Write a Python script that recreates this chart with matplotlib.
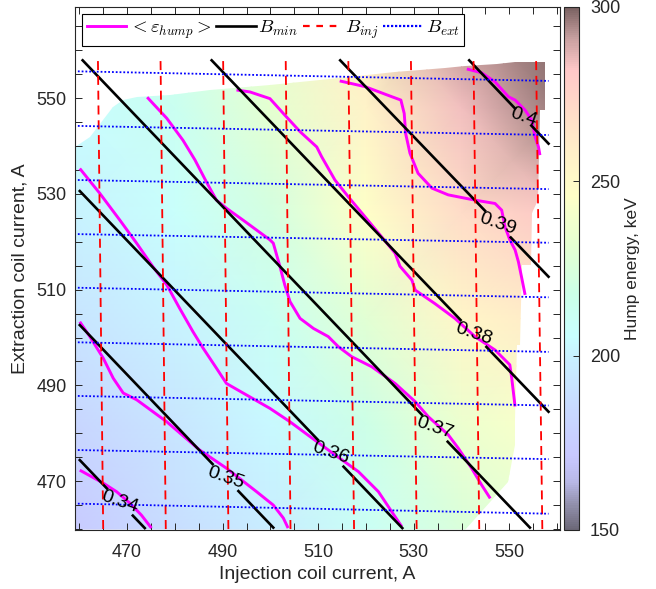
import numpy as np
import matplotlib
matplotlib.use("Agg")
import matplotlib.pyplot as plt
from matplotlib.colors import LinearSegmentedColormap
from matplotlib.patches import Polygon
from matplotlib.lines import Line2D
from matplotlib.ticker import MultipleLocator

# ---------------- data ----------------
# hump energy field (keV), coarse grid
grid_inj = [459, 480, 500, 520, 540, 561]
grid_ext = [460, 482, 504, 526, 548, 570]
energy = [
    [173, 187, 198, 210, 225, 235],
    [182, 193, 203, 218, 236, 246],
    [192, 200, 212, 230, 253, 263],
    [200, 207, 222, 245, 270, 282],
    [205, 213, 232, 256, 284, 297],
    [208, 218, 238, 264, 295, 300],
]
# outline of the measured region (Iinj, Iext)
region_inj = [459.0, 462.2, 465.0, 467.1, 469.2, 472.0, 478.9, 487.3, 499.9, 510.4,
              526.1, 536.5, 540.7, 547.4, 551.2, 557.5, 557.5, 556.4, 556.0, 554.8,
              554.5, 552.7, 552.2, 551.6, 551.2, 551.2, 549.7, 540.7, 459.0]
region_ext = [539.8, 541.9, 545.4, 548.2, 549.6, 550.2, 550.6, 551.7, 552.7, 553.8,
              555.4, 556.3, 556.7, 557.1, 557.5, 557.5, 547.5, 547.5, 528.7, 526.0,
              515.1, 515.1, 498.4, 498.4, 483.2, 477.6, 469.8, 459.8, 459.8]

# <eps_hump> contours
hump_x = [
    [460.1, 465.0, 467.8, 470.6, 473.0, 475.1],
    [460.1, 464.3, 468.5, 472.0, 475.4, 478.3, 481.0, 483.8, 485.9, 488.7, 490.8,
     494.3, 499.9, 504.1, 508.3, 513.5, 518.4, 522.6, 525.4, 527.5],
    [460.1, 462.2, 465.0, 467.1, 469.2, 472.0, 478.3, 485.2, 490.8, 497.1, 500.6,
     502.7, 503.7],
    [474.2, 475.4, 478.3, 481.7, 484.2, 486.6, 488.7, 490.8, 494.3, 499.9, 500.6,
     502.0, 503.0, 504.1, 506.2, 509.0, 512.1, 514.2, 517.0, 521.2, 526.1, 530.3,
     533.0, 537.2, 539.3, 542.1, 544.2, 546.0],
    [492.9, 495.7, 499.9, 502.7, 506.2, 509.7, 510.7, 513.5, 516.3, 519.8, 523.3,
     526.1, 527.1, 529.6, 530.3, 534.4, 538.6, 542.8, 547.0, 550.1, 550.5, 551.2],
    [514.5, 519.8, 525.4, 527.3, 528.0, 528.3, 529.2, 530.9, 533.8, 537.2, 542.8,
     547.0, 548.4, 549.1, 550.1, 551.2, 551.9, 552.6, 553.3],
    [541.1, 544.2, 547.0, 549.8, 551.2, 553.3, 554.7, 555.4, 556.1, 556.4],
]
hump_y = [
    [472.3, 469.6, 467.8, 465.4, 462.9, 460.2],
    [535.3, 530.1, 524.5, 519.7, 514.8, 511.0, 506.1, 501.2, 497.8, 493.6, 490.4,
     488.4, 485.2, 482.4, 479.3, 475.5, 472.0, 467.8, 463.6, 460.5],
    [503.3, 500.2, 495.7, 491.5, 488.4, 487.0, 482.4, 476.5, 472.7, 467.8, 465.0,
     462.3, 460.2],
    [550.2, 548.9, 545.8, 541.2, 537.1, 532.5, 528.7, 527.0, 524.5, 520.4, 519.7,
     514.8, 511.0, 507.5, 504.0, 501.9, 500.2, 498.1, 496.0, 493.9, 490.4, 486.6,
     483.5, 479.7, 476.9, 472.7, 469.2, 466.4],
    [551.7, 551.3, 549.9, 546.8, 543.0, 539.8, 537.8, 532.9, 529.4, 525.2, 521.0,
     517.6, 514.9, 512.0, 509.9, 507.1, 504.0, 500.2, 497.4, 494.3, 491.5, 485.6],
    [553.6, 552.4, 550.3, 549.6, 546.8, 542.6, 538.5, 534.3, 531.2, 529.8, 528.7,
     528.0, 526.6, 523.1, 520.4, 518.3, 515.8, 512.4, 508.9],
    [556.1, 555.3, 553.4, 550.3, 549.6, 547.5, 545.4, 541.9, 539.8, 538.1],
]

# B_min contour lines (endpoints) and labels
bmin_levels = ["0.34", "0.35", "0.36", "0.37", "0.38", "0.39", "0.4"]
bmin_x0 = [460.1, 460.1, 460.1, 460.7, 487.7, 514.6, 541.6]
bmin_y0 = [474.4, 502.6, 530.6, 557.9, 557.9, 557.9, 557.9]
bmin_x1 = [473.7, 500.6, 527.6, 554.3, 558.2, 558.2, 558.2]
bmin_y1 = [460.2, 460.3, 460.2, 460.3, 484.5, 512.7, 540.5]
bmin_label_x = [468.5, 490.6, 512.6, 534.4, 542.5, 547.6, 552.9]

# B_inj lines (x at bottom / top)
inj_x_bottom = [465.0, 478.1, 491.2, 504.2, 517.5, 530.6, 543.7, 556.9]
inj_x_top = [463.9, 477.0, 490.1, 503.2, 516.3, 529.4, 542.5, 555.6]
# B_ext lines (y at left / right)
ext_y_left = [555.6, 544.2, 532.9, 521.6, 510.4, 499.0, 487.8, 476.5, 465.3]
ext_y_right = [553.6, 542.3, 531.0, 519.8, 508.4, 497.0, 485.8, 474.6, 463.2]

xtick_vals = [470, 490, 510, 530, 550]
ytick_vals = [470, 490, 510, 530, 550]
cbar_ticks = [150, 200, 250, 300]

# ---------------- style ----------------
plt.rcParams['font.family'] = ['Liberation Sans', 'DejaVu Sans']
plt.rcParams['mathtext.fontset'] = 'cm'
TXT = '#262626'

cmap = LinearSegmentedColormap.from_list('hump', [
    (0.000, '#6c6878'),
    (0.040, '#8c8aa4'),
    (0.090, '#b8b8e6'),
    (0.140, '#c8c8ff'),
    (0.240, '#c8dcff'),
    (0.320, '#c8eeff'),
    (0.370, '#c8ffff'),
    (0.450, '#ccffe8'),
    (0.540, '#e4ffd2'),
    (0.640, '#ffffc8'),
    (0.720, '#fff0c8'),
    (0.800, '#ffdcc8'),
    (0.880, '#ffc8c8'),
    (0.940, '#c8a0a0'),
    (1.000, '#7a6262'),
])

fig = plt.figure(figsize=(6.56, 5.89), dpi=100)
ax = fig.add_axes([75/656, 1-530/589, 485/656, 523.3/589])
cax = fig.add_axes([564/656, 1-530/589, 15/656, 523.3/589])

X, Y = np.meshgrid(grid_inj, grid_ext)
mesh = ax.pcolormesh(X, Y, np.array(energy, float), shading='gouraud', cmap=cmap,
                     vmin=150, vmax=300, zorder=1)
clip = Polygon(np.column_stack([region_inj, region_ext]), closed=True,
               transform=ax.transData)
mesh.set_clip_path(clip)

# magenta contours
for xs, ys in zip(hump_x, hump_y):
    ax.plot(xs, ys, color='#ff00ff', lw=2.1, zorder=3, solid_capstyle='butt',
            solid_joinstyle='round')

# B_min lines with inline labels
for lev, x0, y0, x1, y1, lx in zip(bmin_levels, bmin_x0, bmin_y0, bmin_x1, bmin_y1,
                                   bmin_label_x):
    hg = 2.7 if len(lev) > 3 else 1.7
    ly = np.interp(lx, [x0, x1], [y0, y1])
    ya = np.interp(lx - hg, [x0, x1], [y0, y1])
    yb = np.interp(lx + hg, [x0, x1], [y0, y1])
    ax.plot([x0, lx - hg], [y0, ya], color='black', lw=1.9, zorder=4)
    ax.plot([lx + hg, x1], [yb, y1], color='black', lw=1.9, zorder=4)
    ax.text(lx, ly, lev, rotation=-19, ha='center', va='center', fontsize=14,
            color='black', zorder=6, rotation_mode='anchor')

# B_inj lines
for xb, xt in zip(inj_x_bottom, inj_x_top):
    ax.plot([xb, xt], [460, 558], color='#ff0000', lw=1.3, ls=(0, (5, 3.2)), zorder=5)
# B_ext lines
for yl, yr in zip(ext_y_left, ext_y_right):
    ax.plot([459.7, 558.2], [yl, yr], color='#0000ff', lw=1.3, ls=(0, (1, 1.1)), zorder=5)

ax.set_xlim(459.1, 560.6)
ax.set_ylim(459.8, 569.1)
ax.set_xticks(xtick_vals)
ax.set_yticks(ytick_vals)
ax.xaxis.set_minor_locator(MultipleLocator(5))
ax.yaxis.set_minor_locator(MultipleLocator(5))
ax.tick_params(which='both', direction='in', top=True, right=True, length=5,
               width=0.7, colors=TXT, labelsize=13)
ax.tick_params(axis='x', which='both', pad=10)
ax.tick_params(axis='y', which='both', pad=6)
for s in ax.spines.values():
    s.set_color(TXT)
    s.set_linewidth(0.8)
ax.set_xlabel('Injection coil current, A', fontsize=14, color=TXT, labelpad=4)
ax.set_ylabel('Extraction coil current, A', fontsize=14, color=TXT, labelpad=6)

handles = [
    Line2D([], [], color='#ff00ff', lw=2.1),
    Line2D([], [], color='black', lw=1.9),
    Line2D([], [], color='#ff0000', lw=1.6, ls=(0, (3, 3))),
    Line2D([], [], color='#0000ff', lw=1.6, ls=(0, (1, 0.8))),
]
labels = [r'$<\varepsilon_{hump}>$', r'$B_{min}$', r'$B_{inj}$', r'$B_{ext}$']
leg = ax.legend(handles, labels, ncol=4, loc='upper left',
                bbox_to_anchor=((82-75)/485, (530-14)/523.3), borderaxespad=0,
                frameon=True, fancybox=False, fontsize=13.5, handlelength=2.1,
                handletextpad=0.15, columnspacing=0.25, borderpad=0.25)
leg.get_frame().set_edgecolor('black')
leg.get_frame().set_linewidth(0.8)
leg.get_frame().set_alpha(1)
leg.set_zorder(10)

cb = fig.colorbar(mesh, cax=cax, ticks=cbar_ticks)
cb.outline.set_edgecolor(TXT)
cb.outline.set_linewidth(0.8)
cax.tick_params(direction='in', length=4, width=0.7, colors=TXT, labelsize=13, pad=8)
cb.set_label('Hump energy, keV', fontsize=12.5, color=TXT, labelpad=3)

fig.savefig('out.png', dpi=100)
